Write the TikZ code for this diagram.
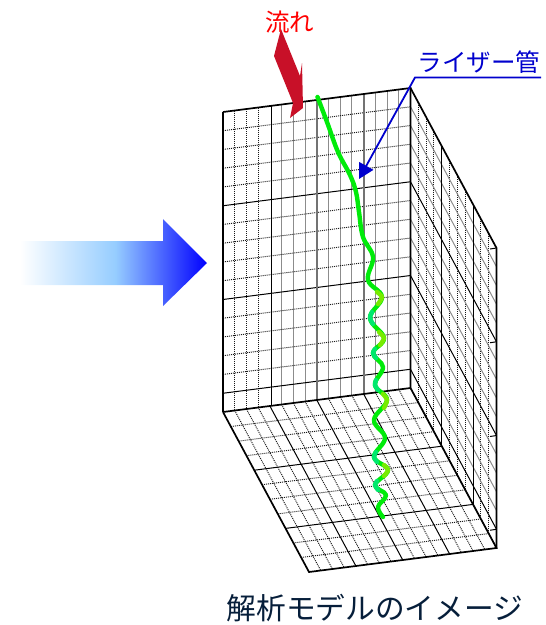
\documentclass[tikz,border=0pt]{standalone}
\usepackage{fontspec}
\setmainfont{Noto Sans CJK JP}
\usetikzlibrary{arrows.meta}
\definecolor{flowred}{RGB}{200,16,40}
\definecolor{leaderblue}{RGB}{0,0,205}
\definecolor{titlenavy}{RGB}{6,30,58}
\definecolor{risergreen}{RGB}{0,235,10}
\definecolor{riserlime}{RGB}{120,235,0}
\definecolor{riserteal}{RGB}{0,232,110}
\definecolor{flowlight}{RGB}{150,205,255}
\pgfdeclarehorizontalshading{flowgrad}{100bp}{
  color(0bp)=(white);
  color(25bp)=(white);
  color(50.5bp)=(flowlight);
  color(75bp)=(blue);
  color(100bp)=(blue)}
\tikzset{
  dotline/.style={black!90,line width=0.95pt,dash pattern=on 1pt off 1pt},
  dotdense/.style={black!90,line width=1pt,dash pattern=on 1pt off 1pt},
  greyline/.style={black!45,line width=1pt},
  majorline/.style={black,line width=1pt},
  majorgrey/.style={black!55,line width=1.5pt},
  edgeline/.style={black,line width=1.7pt},
  riserline/.style={risergreen,line width=4.4pt,line cap=round,line join=round},
  labeltext/.style={inner sep=0pt,font=\fontsize{24.5}{26}\selectfont},
}
\begin{document}
\begin{tikzpicture}[x=1pt,y=-1pt]
\useasboundingbox (0,0) rectangle (546,625);
% big flow arrow
\path[shading=flowgrad] (20,241) -- (163,241) -- (163,219) -- (207,263) -- (163,306) -- (163,285) -- (20,285) -- cycle;
% right wall
\foreach \j in {1,2,3,5,6,7,9,10}
  \draw[dotdense] ({410.5+\j*7.82},{88+\j*14.55}) -- ({410.5+\j*7.82},{388+\j*14.55});
\foreach \k in {1,2,3,4,6,7,8,9,11,12,13,14,16}
  \draw[greyline] (410.5,{88+\k*18.75}) -- (496.5,{248+\k*18.75});
\foreach \k in {5,10,15}
  \draw[majorline] (410.5,{88+\k*18.75}) -- (496.5,{248+\k*18.75});
\foreach \j in {4,8}
  \draw[majorline] ({410.5+\j*7.82},{88+\j*14.55}) -- ({410.5+\j*7.82},{388+\j*14.55});
\foreach \k in {0,5,10,15}
  \draw[majorline] (490,{249+\k*18.75}) -- (496.5,{248+\k*18.75});
\draw[edgeline] (410.5,88) -- (496.5,248) -- (496.5,548);
% floor
\foreach \i in {1,2,3,5,6,7,9,10,11,13,14,15}
  \draw[dotline] ({223+\i*11.72},{412-\i*1.5}) -- ({309+\i*11.72},{572-\i*1.5});
\foreach \j in {1,2,3,5,6,7,9,10}
  \draw[dotline] ({223+\j*7.82},{412+\j*14.55}) -- ({410.5+\j*7.82},{388+\j*14.55});
\foreach \i in {4,8,12}
  \draw[majorline] ({223+\i*11.72},{412-\i*1.5}) -- ({309+\i*11.72},{572-\i*1.5});
\foreach \j in {4,8}
  \draw[majorline] ({223+\j*7.82},{412+\j*14.55}) -- ({410.5+\j*7.82},{388+\j*14.55});
\draw[edgeline] (223,412) -- (309,572) -- (496.5,548) -- (410.5,388);
% front wall
\foreach \i in {1,2,3}
  \draw[dotline] ({223+\i*11.72},{112-\i*1.5}) -- ({223+\i*11.72},{412-\i*1.5});
\foreach \i in {5,6,7,9,10,11,13,14,15}
  \draw[greyline] ({223+\i*11.72},{112-\i*1.5}) -- ({223+\i*11.72},{412-\i*1.5});
\foreach \k in {1,2,3,4,6,7,8,9,11,12,13,14}
  \draw[dotline] (223,{112+\k*18.75}) -- (410.5,{88+\k*18.75});
\foreach \k in {5,10,15}
  \draw[majorline] (223,{112+\k*18.75}) -- (410.5,{88+\k*18.75});
\draw[majorline] (271,106) -- (271,406);
\draw[majorgrey] (317,100) -- (317,400);
\draw[majorgrey] (364,94) -- (364,394);
\draw[edgeline] (223,412) -- (410.5,388);
\draw[line width=2pt] (223,412) -- (223,112);
\draw[edgeline] (223,112) -- (410.5,88) -- (410.5,388);
% riser
\draw[riserline] plot[smooth,tension=0.65] coordinates {(317.5,97) (327,122) (338,152) (350,175) (356,192) (359,212) (363,237) (373,257) (368,280) (382,297) (370,318) (384,338) (373,353) (383,367) (375,385) (387,400) (374,420) (385,438) (374,457) (388,470) (375,485) (386,495) (378,507) (383,517)};
\draw[riserline,riserlime] plot[smooth] coordinates {(377,292) (382,297) (378,304)};
\draw[riserline,riserlime] plot[smooth] coordinates {(379,332) (384,338) (380,345)};
\draw[riserline,riserlime] plot[smooth] coordinates {(383,394) (387,400) (384,408)};
\draw[riserline,riserlime] plot[smooth] coordinates {(384,465) (388,470) (384,476)};
\draw[riserline,riserteal] plot[smooth] coordinates {(372,312) (370,318) (373,324)};
\draw[riserline,riserteal] plot[smooth] coordinates {(375,349) (373,353) (376,358)};
\draw[riserline,riserteal] plot[smooth] coordinates {(376,380) (375,385) (378,390)};
\draw[riserline,riserteal] plot[smooth] coordinates {(376,452) (374,457) (377,462)};
\draw[riserline,riserteal] plot[smooth] coordinates {(377,481) (375,485) (378,490)};
% red arrow
\fill[flowred] (281,29) -- (300,76) -- (302,63) -- (303,108) -- (290,118) -- (293,103) -- (274,56) -- cycle;
% labels
\node[labeltext,text=red] (flowlabel) at (289.5,22) {流れ};
\node[labeltext,text=leaderblue] (riserlabel) at (479,62) {ライザー管};
\node[inner sep=0pt,text=titlenavy,font=\fontsize{29.7}{31}\selectfont] (title) at (375,608) {解析モデルのイメージ};
% leader
\coordinate (leadend) at (541,77.5);
\coordinate (leadknee) at (415,77.5);
\coordinate (leadtip) at (359,179);
\draw[leaderblue,line width=1.8pt,-{Triangle[length=15pt,width=16pt]}] (leadend) -- (leadknee) -- (leadtip);
\end{tikzpicture}
\end{document}
